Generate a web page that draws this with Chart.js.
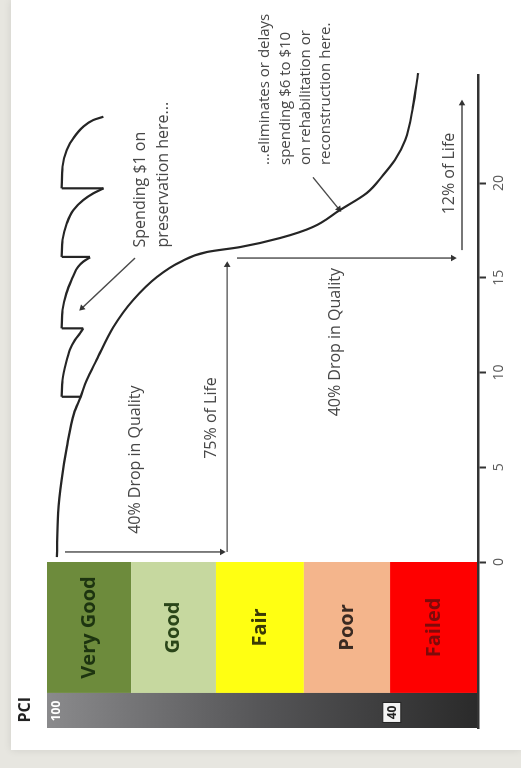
<!DOCTYPE html>
<html><head><meta charset="utf-8">
<script src="https://cdn.jsdelivr.net/npm/chart.js@4.4.1/dist/chart.umd.min.js"></script>
<style>
html,body{margin:0;padding:0;background:#e7e6e0;width:521px;height:768px;overflow:hidden}
#rot{position:absolute;left:0;top:0;width:768px;height:521px;transform-origin:0 0;transform:translate(0,768px) rotate(-90deg);}
#paper{position:absolute;left:18px;top:11px;width:750px;height:510px;background:#fff;box-shadow:0 0 8px rgba(0,0,0,0.10)}
#c{position:absolute;left:0;top:0}
</style></head>
<body><div id="rot"><div id="paper"></div><canvas id="c" width="768" height="521"></canvas></div>
<script>
// ---- data (x = pavement age in years, y = PCI) ----
const TICKS = [0, 5, 10, 15, 20];
const AGE_RANGE = [-8.76, 25.7];

const MAIN_AGE = [0.26, 2.59, 4.33, 6.07, 7.86, 8.71, 9.6, 10.66, 12.4, 13.83, 15.04, 15.83, 16.36, 16.62, 17.1, 17.68, 18.58, 19.47, 20.42, 21.21, 22.27, 24.01, 25.8, 26.4];
const MAIN_PCI = [97.7, 97.4, 96.6, 95.4, 93.7, 92.2, 90.8, 88.5, 84.6, 80.0, 74.5, 69.1, 62.9, 55.2, 45.9, 38.3, 32.0, 25.8, 22.0, 19.3, 16.9, 15.1, 13.9, 13.5];

const HUMP1_AGE = [8.72, 9.6, 10.5, 11.19, 11.72, 12.08, 12.33];
const HUMP1_PCI = [96.6, 96.4, 95.6, 94.7, 93.5, 92.3, 91.6];
const HUMP2_AGE = [12.33, 13.3, 14.18, 14.88, 15.58, 15.85, 16.08];
const HUMP2_PCI = [96.6, 96.4, 95.5, 94.3, 92.8, 91.6, 90.0];
const HUMP3_AGE = [16.1, 17.0, 17.87, 18.57, 19.1, 19.45, 19.72];
const HUMP3_PCI = [96.6, 96.4, 95.4, 93.9, 91.6, 89.3, 86.9];
const HUMP4_AGE = [19.72, 20.86, 21.74, 22.36, 22.97, 23.32, 23.5];
const HUMP4_PCI = [96.6, 96.4, 95.4, 93.9, 91.6, 89.3, 86.9];

const JUMP_AGE = [8.72, 12.33, 16.1, 19.72];
const JUMP_FROM = [92.1, 91.6, 90.0, 86.9];
const JUMP_TO = [96.6, 96.6, 96.6, 96.6];

const ARROW_START_AGE = [0.53, 0.53, 16.04, 16.46, 16.04, 20.3];
const ARROW_START_PCI = [95.8, 58.2, 55.9, 3.7, 79.6, 38.3];
const ARROW_END_AGE   = [0.53, 15.67, 16.04, 24.2, 13.4, 18.63];
const ARROW_END_PCI   = [59.4, 58.2, 5.8, 3.7, 91.9, 32.3];

const BAND_NAMES = ['Very Good', 'Good', 'Fair', 'Poor', 'Failed'];
const BAND_EDGES = [100, 80.5, 60.8, 40.4, 20.4, 0];
const BAND_AGE = [-6.91, 0];
const STRIP_AGE = [-8.76, -6.91];

const LABELS = ['40% Drop in Quality', '75% of Life', '40% Drop in Quality', '12% of Life',
  'Spending $1 on', 'preservation here...',
  '...eliminates or delays', 'spending $6 to $10', 'on rehabilitation or', 'reconstruction here.'];
const LABEL_AGE = [5.4, 7.6, 11.6, 20.5, 16.6, 16.6, 20.95, 20.95, 20.95, 20.95];
const LABEL_PCI = [79.4, 61.8, 33.0, 6.7, 78.4, 73.1, 49.4, 44.6, 39.9, 35.3];
const LABEL_ALIGN = ['center', 'center', 'center', 'center', 'left', 'left', 'left', 'left', 'left', 'left'];
const LABEL_SIZE = [16, 16, 16, 16, 16, 16, 15, 15, 15, 15];

const STRIP_TEXT = ['PCI', '100', '40'];
const STRIP_TEXT_AGE = [-7.8, -7.86, -7.94];
const STRIP_TEXT_PCI = [105.1, 97.8, 20.0];

// ---- styles ----
const BAND_COLORS = ['#6d8b3c', '#c6d89f', '#ffff12', '#f4b58c', '#fe0000'];
const BAND_TEXT_COLORS = ['#1d3410', '#2a4519', '#3a3a05', '#3a2a22', '#7e0a0a'];
const FONT = '"Open Sans", "DejaVu Sans", sans-serif';
const CURVE = '#252525';

const pts = (a, p) => a.map((v, i) => ({x: v, y: p[i]}));
const curveDs = (a, p) => ({data: pts(a, p), borderColor: CURVE, borderWidth: 2.2, pointRadius: 0,
  cubicInterpolationMode: 'monotone', clip: false, fill: false});

const datasets = [curveDs(MAIN_AGE, MAIN_PCI), curveDs(HUMP1_AGE, HUMP1_PCI), curveDs(HUMP2_AGE, HUMP2_PCI),
  curveDs(HUMP3_AGE, HUMP3_PCI), curveDs(HUMP4_AGE, HUMP4_PCI)];

const jumpData = [];
JUMP_AGE.forEach((a, i) => { jumpData.push({x: a, y: JUMP_FROM[i]}, {x: a, y: JUMP_TO[i]}, {x: a, y: null}); });
datasets.push({data: jumpData, borderColor: CURVE, borderWidth: 2.2, pointRadius: 0, tension: 0, spanGaps: false, clip: false});

ARROW_START_AGE.forEach((a, i) => {
  datasets.push({
    data: [{x: a, y: ARROW_START_PCI[i]}, {x: ARROW_END_AGE[i], y: ARROW_END_PCI[i]}],
    borderColor: '#4a4a4a', borderWidth: 1.4, tension: 0, clip: false,
    pointStyle: 'triangle', pointBackgroundColor: '#333', pointBorderColor: '#333', pointBorderWidth: 0,
    pointRadius: c => c.dataIndex === 1 ? 3.8 : 0,
    pointRotation: c => {
      const s = c.chart.scales;
      if (!s || !s.x) return 0;
      const dx = s.x.getPixelForValue(ARROW_END_AGE[i]) - s.x.getPixelForValue(a);
      const dy = s.y.getPixelForValue(ARROW_END_PCI[i]) - s.y.getPixelForValue(ARROW_START_PCI[i]);
      return Math.atan2(dx, -dy) * 180 / Math.PI;
    }
  });
});

const bandPlugin = {
  id: 'bands',
  beforeDraw(chart) {
    const {ctx, scales: {x, y}} = chart;
    ctx.save();
    const u0 = x.getPixelForValue(BAND_AGE[0]), u1 = x.getPixelForValue(BAND_AGE[1]);
    for (let i = 0; i < BAND_NAMES.length; i++) {
      const v0 = y.getPixelForValue(BAND_EDGES[i]), v1 = y.getPixelForValue(BAND_EDGES[i + 1]);
      ctx.fillStyle = BAND_COLORS[i];
      ctx.fillRect(u0, v0, u1 - u0, v1 - v0);
      ctx.fillStyle = BAND_TEXT_COLORS[i];
      ctx.font = 'bold 20px ' + FONT;
      ctx.textAlign = 'center'; ctx.textBaseline = 'middle';
      ctx.fillText(BAND_NAMES[i], (u0 + u1) / 2, (v0 + v1) / 2);
    }
    const s0 = x.getPixelForValue(STRIP_AGE[0]), s1 = x.getPixelForValue(STRIP_AGE[1]);
    const t = y.getPixelForValue(100), b = y.getPixelForValue(0);
    const g = ctx.createLinearGradient(0, t, 0, b);
    g.addColorStop(0, '#8a8a8c'); g.addColorStop(0.5, '#555557'); g.addColorStop(1, '#2a2a2a');
    ctx.fillStyle = g;
    ctx.fillRect(s0, t, s1 - s0, b - t);
    const px = k => x.getPixelForValue(STRIP_TEXT_AGE[k]), py = k => y.getPixelForValue(STRIP_TEXT_PCI[k]);
    ctx.textAlign = 'center'; ctx.textBaseline = 'middle';
    ctx.font = 'bold 16px ' + FONT; ctx.fillStyle = '#222';
    ctx.fillText(STRIP_TEXT[0], px(0), py(0));
    ctx.font = 'bold 12px ' + FONT; ctx.fillStyle = '#fff';
    ctx.fillText(STRIP_TEXT[1], px(1), py(1));
    ctx.fillStyle = '#f4f4f4'; ctx.strokeStyle = '#222'; ctx.lineWidth = 1;
    ctx.fillRect(px(2) - 10, py(2) - 9, 20, 18);
    ctx.strokeRect(px(2) - 10, py(2) - 9, 20, 18);
    ctx.fillStyle = '#222';
    ctx.fillText(STRIP_TEXT[2], px(2), py(2) + 1);
    ctx.restore();
  }
};

const labelPlugin = {
  id: 'labels',
  afterDraw(chart) {
    const {ctx, scales: {x, y}} = chart;
    ctx.save();
    ctx.fillStyle = '#474747'; ctx.textBaseline = 'middle';
    LABELS.forEach((t, i) => {
      ctx.font = LABEL_SIZE[i] + 'px ' + FONT;
      ctx.textAlign = LABEL_ALIGN[i];
      ctx.fillText(t, x.getPixelForValue(LABEL_AGE[i]), y.getPixelForValue(LABEL_PCI[i]));
    });
    ctx.restore();
  }
};

new Chart(document.getElementById('c'), {
  type: 'line',
  data: {datasets},
  options: {
    responsive: false, animation: false, devicePixelRatio: 1,
    layout: {padding: {left: 40, right: 75, top: 47, bottom: 0}},
    plugins: {legend: {display: false}, tooltip: {enabled: false}},
    scales: {
      x: {
        type: 'linear', min: AGE_RANGE[0], max: AGE_RANGE[1],
        afterBuildTicks: s => { s.ticks = TICKS.map(v => ({value: v})); },
        afterFit: s => { s.height = 43; },
        grid: {drawOnChartArea: false, drawTicks: true, tickLength: 8, tickColor: '#333', tickWidth: 2},
        border: {display: true, color: '#333', width: 2.5},
        ticks: {font: {family: FONT, size: 14}, color: '#5a5a5a', padding: 5, maxRotation: 0, autoSkip: false,
          callback: v => String(v)}
      },
      y: {type: 'linear', min: 0, max: 100, display: false}
    }
  },
  plugins: [bandPlugin, labelPlugin]
});
</script>
</body></html>
